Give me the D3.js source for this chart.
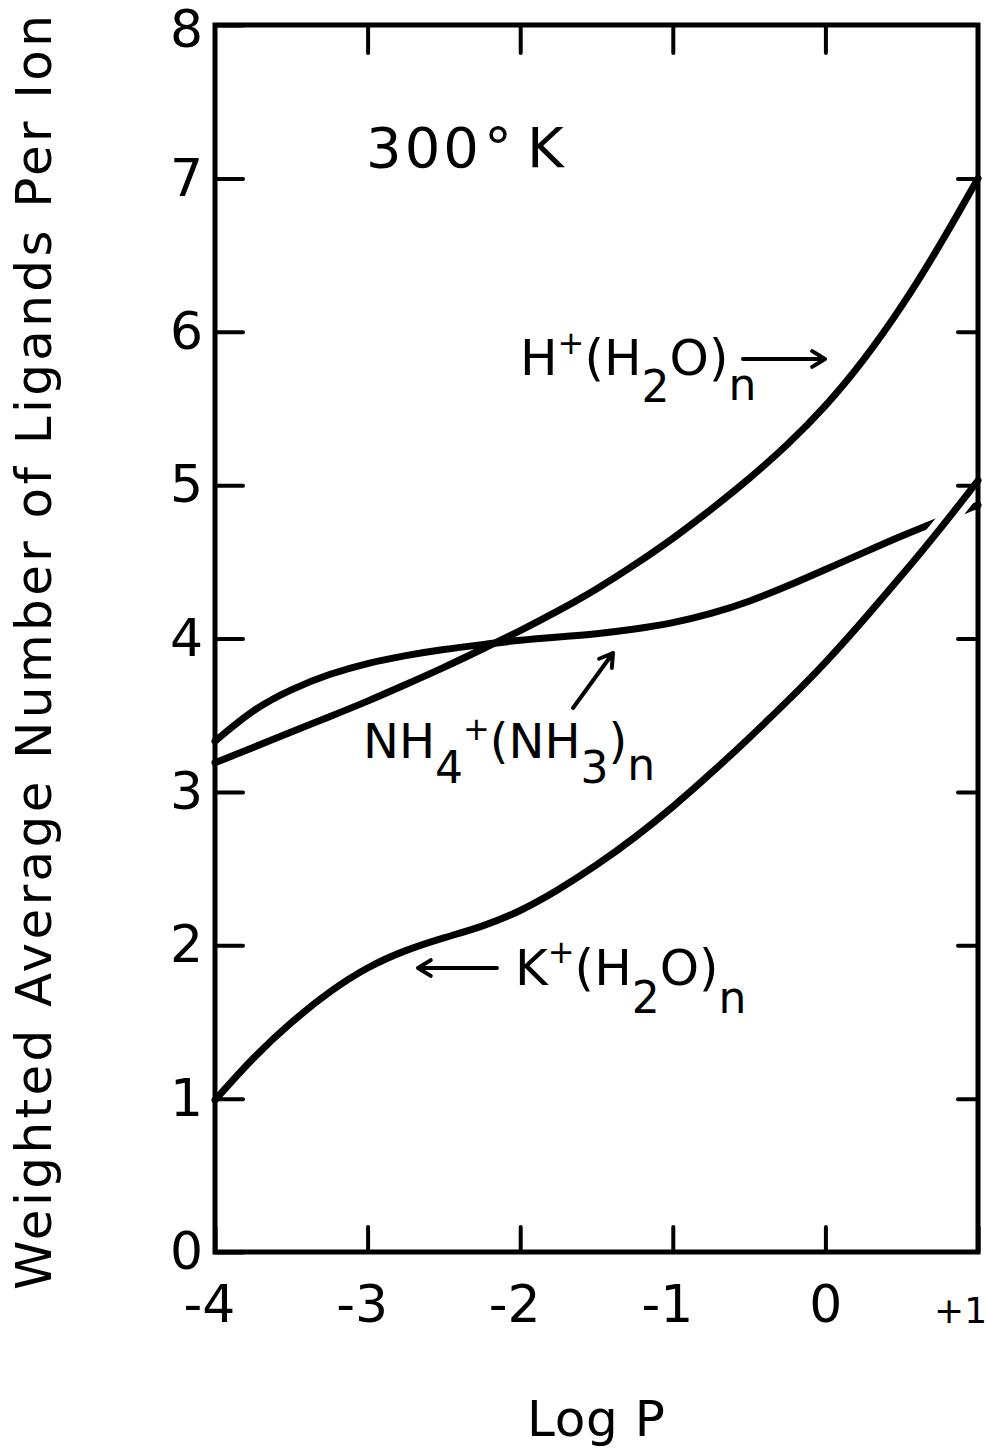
<!DOCTYPE html>
<html>
<head>
<meta charset="utf-8">
<script src="https://cdn.jsdelivr.net/npm/d3@7"></script>
<style>
  html, body { margin: 0; padding: 0; background: #fff; }
  svg { display: block; }
  text { font-family: "DejaVu Sans", "Liberation Sans", sans-serif; fill: #000; }
</style>
</head>
<body>
<svg id="chart" width="986" height="1448"></svg>
<script>
// Weighted average number of ligands per ion vs log P, 300 K

// Log P grid shared by the three curves
const logP = [-4, -3.75, -3.5, -3.25, -3, -2.75, -2.5, -2.25, -2, -1.75, -1.5, -1.25,
              -1, -0.75, -0.5, -0.25, 0, 0.25, 0.5, 0.75, 1.0];

// H+(H2O)n
const ligands_H = [3.19, 3.29, 3.39, 3.49, 3.59, 3.70, 3.81, 3.93, 4.05, 4.18, 4.32, 4.48,
                   4.65, 4.84, 5.04, 5.26, 5.51, 5.81, 6.16, 6.56, 7.0];

// NH4+(NH3)n
const ligands_NH4 = [3.33, 3.54, 3.67, 3.77, 3.84, 3.89, 3.93, 3.96, 3.99, 4.01, 4.03, 4.06,
                     4.10, 4.16, 4.24, 4.34, 4.45, 4.56, 4.67, 4.77, 4.87];

// K+(H2O)n
const ligands_K = [0.99, 1.27, 1.50, 1.70, 1.86, 1.97, 2.05, 2.12, 2.22, 2.36, 2.52, 2.70,
                   2.90, 3.12, 3.35, 3.59, 3.84, 4.12, 4.41, 4.71, 5.03];

// Axis ticks
const xTicks = [-4, -3, -2, -1, 0, 1];
const xTickLabels = ["-4", "-3", "-2", "-1", "0", "+1"];
const yTicks = [0, 1, 2, 3, 4, 5, 6, 7, 8];

const svg = d3.select("#chart");

const x = d3.scaleLinear().domain([-4, 1]).range([215, 978]);
const y = d3.scaleLinear().domain([0, 8]).range([1252, 25]);

const line = d3.line()
  .x(d => x(d[0]))
  .y(d => y(d[1]))
  .curve(d3.curveBasis);

const zip = (a, b) => a.map((v, i) => [v, b[i]]);

// Curves
const curves = svg.append("g").attr("fill", "none").attr("stroke-linecap", "round");

curves.append("path")
  .attr("d", line(zip(logP, ligands_H)))
  .attr("stroke", "#000").attr("stroke-width", 7);

curves.append("path")
  .attr("d", line(zip(logP, ligands_NH4)))
  .attr("stroke", "#000").attr("stroke-width", 7);

// K curve is drawn over a white band so the NH4 line breaks where they cross
curves.append("path")
  .attr("d", line(zip(logP, ligands_K)))
  .attr("stroke", "#fff").attr("stroke-width", 20);
curves.append("path")
  .attr("d", line(zip(logP, ligands_K)))
  .attr("stroke", "#000").attr("stroke-width", 7);

// Axes with inward ticks
const tickStyle = g => {
  g.select(".domain").remove();
  g.selectAll(".tick line").attr("stroke", "#000").attr("stroke-width", 4).attr("stroke-linecap", "round");
};

const yAxisLeft = svg.append("g")
  .attr("transform", `translate(${x(-4)},0)`)
  .call(d3.axisLeft(y).tickValues(yTicks).tickSize(-28).tickPadding(12).tickFormat(d3.format("d")))
  .call(tickStyle);
yAxisLeft.selectAll(".tick text")
  .attr("font-family", "DejaVu Sans, sans-serif")
  .attr("font-size", 52).attr("fill", "#000")
  .attr("dy", d => d === 8 ? "0.42em" : "0.32em");

svg.append("g")
  .attr("transform", `translate(${x(1)},0)`)
  .call(d3.axisRight(y).tickValues(yTicks.slice(1, -1)).tickSize(-20).tickFormat(""))
  .call(tickStyle);

svg.append("g")
  .attr("transform", `translate(0,${y(8)})`)
  .call(d3.axisTop(x).tickValues(xTicks.slice(1, -1)).tickSize(-28).tickFormat(""))
  .call(tickStyle);

const xAxis = svg.append("g")
  .attr("transform", `translate(0,${y(0)})`)
  .call(d3.axisBottom(x).tickValues(xTicks).tickSize(-25).tickPadding(33)
    .tickFormat((d, i) => xTickLabels[i]))
  .call(tickStyle);
xAxis.selectAll(".tick text")
  .attr("font-family", "DejaVu Sans, sans-serif")
  .attr("font-size", d => d === 1 ? 36 : 52)
  .attr("dx", d => d === 1 ? -18 : (d < 0 ? -6 : 0))
  .attr("dy", d => d === 1 ? "1.05em" : "0.71em")
  .attr("fill", "#000");

// Frame
svg.append("rect")
  .attr("x", x(-4)).attr("y", y(8))
  .attr("width", x(1) - x(-4)).attr("height", y(0) - y(8))
  .attr("fill", "none").attr("stroke", "#000").attr("stroke-width", 5);

// Axis titles
svg.append("text")
  .attr("transform", "translate(51,1290) rotate(-90)")
  .attr("font-size", 50)
  .attr("textLength", 1275).attr("lengthAdjust", "spacing")
  .text("Weighted Average Number of Ligands Per Ion");

svg.append("text")
  .attr("x", 527).attr("y", 1436)
  .attr("font-size", 50)
  .attr("textLength", 138).attr("lengthAdjust", "spacing")
  .text("Log P");

// Temperature note
const temp = svg.append("text").attr("y", 167).attr("font-size", 56);
temp.append("tspan").attr("x", 366).attr("letter-spacing", 3).text("300");
temp.append("tspan").attr("x", 484).text("°");
temp.append("tspan").attr("x", 527).text("K");

// Chemical formula labels built from tspans with sub/superscripts
function formula(px, py, parts) {
  const t = svg.append("text").attr("x", px).attr("y", py);
  let cur = 0;
  parts.forEach(([txt, off, size]) => {
    t.append("tspan")
      .attr("dy", off - cur)
      .attr("font-size", size)
      .text(txt);
    cur = off;
  });
}

formula(520, 375, [
  ["H", 0, 50], ["+", -21, 32], ["(", 0, 50], ["H", 0, 50],
  ["2", 27, 44], ["O", 0, 50], [")", 0, 50], ["n", 25, 44]
]);

formula(363, 758, [
  ["N", 0, 48], ["H", 0, 48], ["4", 25, 44], ["+", -18, 32],
  ["(", 0, 48], ["N", 0, 48], ["H", 0, 48], ["3", 25, 44],
  [")", 0, 48], ["n", 22, 44]
]);

formula(515, 985, [
  ["K", 0, 50], ["+", -22, 32], ["(", 0, 50], ["H", 0, 50],
  ["2", 28, 44], ["O", 0, 50], [")", 0, 50], ["n", 28, 44]
]);

// Pointer arrows from labels to curves
function arrow(x1, y1, x2, y2) {
  const ang = Math.atan2(y2 - y1, x2 - x1);
  const L = 15, w = 0.55;
  const p = d3.path();
  p.moveTo(x1, y1); p.lineTo(x2, y2);
  p.moveTo(x2 - L * Math.cos(ang - w), y2 - L * Math.sin(ang - w));
  p.lineTo(x2, y2);
  p.lineTo(x2 - L * Math.cos(ang + w), y2 - L * Math.sin(ang + w));
  svg.append("path").attr("d", p.toString())
    .attr("fill", "none").attr("stroke", "#000").attr("stroke-width", 4)
    .attr("stroke-linecap", "round").attr("stroke-linejoin", "round");
}

arrow(743, 359, 825, 359);
arrow(573, 708, 613, 653);
arrow(497, 968, 418, 968);
</script>
</body>
</html>
